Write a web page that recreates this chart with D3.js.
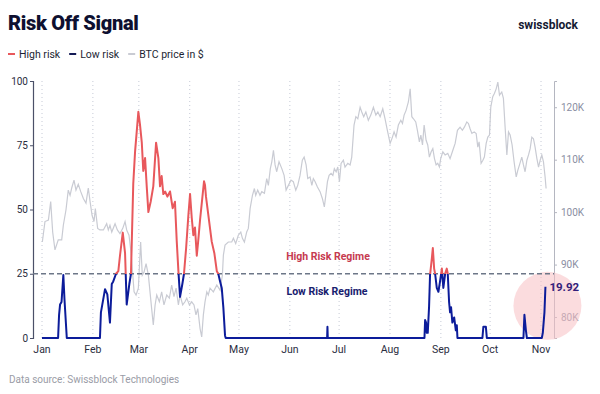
<!DOCTYPE html>
<html>
<head>
<meta charset="utf-8">
<script src="https://cdn.jsdelivr.net/npm/d3@7"></script>
<style>
  body { margin: 0; background: #fff; }
  svg { display: block; font-family: Roboto, "Liberation Sans", sans-serif; }
</style>
</head>
<body>
<svg width="600" height="394"></svg>
<script>
// values (day = days since 1 Jan 2025)
const riskDay = [0, 9.8, 10.4, 11.0, 11.9, 13.0, 13.7, 15.1, 35.3, 35.9, 38.4, 39.8, 41.4, 42.5, 43.4, 45.1, 46.5,
    47.5, 49.2, 50.6, 51.6, 53.2, 54.2, 55.6, 56.7, 58.7, 59.7, 60.8, 61.7, 62.8, 63.8, 64.8, 66.2, 67.8, 69.5,
    70.9, 71.9, 72.9, 73.9, 75.0, 76.4, 78.0, 79.6, 81.0, 82.1, 83.1, 84.1, 85.5, 86.5, 87.8, 89.2, 90.2, 91.2,
    92.2, 93.2, 94.3, 95.2, 96.3, 97.9, 98.7, 99.3, 99.9, 101.3, 103.4, 105.0, 106.5, 107.4, 108.5, 109.5, 110.5,
    111.5, 111.9, 173.7, 173.9, 174.1, 233.0, 233.4, 234.0, 234.4, 235.0, 235.8, 236.4, 237.5, 238.1, 238.9,
    239.5, 240.5, 241.5, 242.5, 243.6, 244.5, 245.6, 246.6, 247.2, 248.0, 248.6, 249.2, 250.0, 251.1, 252.1,
    252.7, 253.1, 268.3, 268.9, 270.4, 271.0, 293.3, 293.9, 294.8, 295.4, 304.5, 305.1, 306.1, 306.7];
const riskValue = [0, 0, 9, 13, 14, 24.5, 15, 0, 0, 10, 19, 17, 6, 21, 22, 25, 26,
    32, 41, 33, 13, 21, 25, 60, 72.5, 88, 83, 76, 65, 70, 59, 49, 53, 59, 76,
    70, 59, 63, 56, 57, 55, 57, 50.5, 53, 37.5, 26, 16, 21, 25, 35, 48, 56, 47,
    40, 43, 32, 38, 46, 56, 61, 59.5, 55, 48, 37.5, 33, 26, 25, 22, 19.5, 11.7,
    1, 0, 0, 4.4, 0, 0, 7, 6, 2, 2, 12, 24.5, 31, 35, 27,
    25, 19.5, 18, 22, 27, 19.5, 25, 27, 25, 14, 10, 12, 6, 8, 3,
    5, 0, 0, 4.4, 4.4, 0, 0, 9, 3, 0, 0, 2, 10, 19.92];

const btcDay = [0.2, 1.8, 3.9, 5.3, 6.5, 7.9, 9.9, 12.0, 13.0, 14.6, 16.0, 17.1, 18.1, 19.5, 20.7, 22.1, 23.6,
    25.2, 26.8, 28.2, 29.3, 30.5, 31.7, 32.5, 33.9, 35.3, 37.4, 39.4, 40.4, 41.4, 42.5, 44.5, 45.9, 47.5, 49.2,
    50.6, 51.6, 53.0, 54.2, 55.3, 56.1, 57.3, 58.7, 60.1, 61.1, 62.2, 63.4, 64.8, 65.8, 66.8, 67.8, 68.9, 69.9,
    71.5, 72.9, 74.3, 76.0, 77.6, 79.0, 80.4, 81.7, 83.1, 84.1, 85.7, 87.1, 88.2, 89.8, 91.2, 92.6, 93.8, 94.9,
    96.3, 97.3, 98.3, 99.3, 100.4, 101.3, 102.4, 104.4, 106.5, 108.5, 109.9, 110.5, 111.5, 113.5, 115.6, 116.6,
    118.0, 119.6, 121.1, 122.1, 123.3, 124.7, 125.7, 126.8, 128.2, 129.4, 130.2, 131.4, 132.8, 133.9, 135.5,
    136.9, 137.9, 139.1, 140.0, 141.0, 142.0, 143.0, 144.4, 146.1, 147.5, 148.7, 150.1, 151.7, 153.1, 154.6,
    155.8, 157.2, 158.6, 159.7, 160.9, 161.9, 163.3, 164.4, 165.3, 166.4, 167.8, 169.4, 170.8, 172.0, 172.9,
    173.9, 174.9, 176.1, 177.2, 178.1, 179.2, 180.2, 181.2, 182.2, 183.6, 184.6, 186.3, 187.7, 188.7, 190.1,
    191.2, 192.4, 193.8, 194.8, 196.0, 197.3, 198.8, 200.3, 201.9, 203.4, 204.6, 206.0, 207.6, 209.0, 210.4,
    212.1, 213.5, 214.5, 215.7, 217.1, 218.6, 219.6, 220.6, 221.8, 223.2, 224.3, 225.3, 226.3, 227.7, 228.7,
    229.9, 230.8, 231.8, 232.8, 234.0, 235.0, 236.0, 237.1, 238.1, 239.1, 240.1, 241.1, 242.1, 242.9, 244.2,
    245.6, 247.2, 248.6, 250.3, 251.7, 253.1, 254.7, 256.1, 257.3, 258.8, 259.8, 260.8, 261.9, 263.3, 264.5,
    265.5, 266.3, 267.5, 268.6, 269.5, 270.6, 271.6, 272.6, 273.4, 274.6, 275.6, 276.7, 277.7, 278.7, 280.1,
    281.1, 282.2, 283.2, 284.2, 285.2, 286.4, 287.6, 288.9, 289.9, 290.9, 292.3, 293.3, 294.3, 295.4, 296.4,
    297.4, 298.4, 299.4, 300.4, 301.5, 302.5, 303.5, 304.5, 305.5, 306.5, 307.1];
const btcPrice = [94.3, 98.2, 98.5, 102, 96.2, 92.8, 94.7, 94.7, 97.5, 100.4, 104.2, 103.2, 104.6, 106.1, 104.2, 105.3, 103.9,
    102.6, 101.7, 104.6, 102, 99.4, 98.2, 100.7, 96.9, 96.6, 96.6, 97.8, 96.6, 97.5, 96.2, 97.8, 96.6, 95.9, 96.9,
    98.2, 96.6, 95.6, 92.4, 88.0, 84.8, 84.2, 85.5, 94.3, 88.0, 88.6, 90.2, 88.0, 84.8, 81.6, 78.5, 82.3, 84.2,
    82.9, 84.8, 82.3, 84.2, 83.6, 86.1, 83.9, 85.5, 82.3, 84.2, 82.3, 82.9, 83.6, 82.3, 82.9, 82.3, 80.4, 81.6,
    77.8, 76.2, 80.4, 82.9, 84.8, 84.2, 85.5, 84.8, 86.1, 85.1, 88.0, 91.8, 93.7, 94.3, 94.3, 95.0,
    94.0, 95.6, 96.2, 95.0, 94.3, 96.2, 96.9, 100.7, 103.2, 104.5, 103.2, 104.2, 103.2, 103.9, 103.6,
    106.4, 105.1, 108.3, 109.6, 111.8, 109.0, 107.7, 109.6, 108.3, 107.0, 104.2, 105.1, 106.1, 105.8, 104.2,
    105.1, 107.0, 109.9, 110.5, 109.0, 106.4, 106.7, 105.1, 106.4, 105.8, 104.8, 103.9, 102.6, 101.0, 103.2,
    105.8, 107.0, 107.4, 107.0, 108.3, 107.7, 108.6, 105.8, 109.3, 109.9, 108.6, 109.3, 109.0, 110.5, 116.6,
    118.2, 117.8, 120.0, 119.1, 118.2, 119.1, 117.5, 118.5, 120.0, 118.5, 119.1, 118.2, 119.7, 117.8, 115.6,
    113.1, 114.3, 115.3, 114.3, 116.6, 117.5, 116.9, 118.5, 119.4, 121.0, 123.5, 118.2, 117.8, 117.2, 115.6,
    113.4, 114.7, 112.8, 116.6, 113.7, 112.8, 110.5, 111.5, 112.1, 110.2, 109.0, 109.3, 108.6, 110.2, 111.5,
    110.9, 111.2, 110.2, 111.8, 113.1, 115.6, 116.2, 115.6, 116.2, 117.2, 116.9, 115.9, 115.0, 115.3, 115.0,
    112.4, 113.4, 109.3, 109.9, 110.5, 113.1, 114.3, 114.7, 120.0, 122.0, 122.6, 123.5, 124.8, 122.3, 122.9,
    121.7, 115.9, 110.9, 115.3, 114.7, 112.8, 109.6, 106.7, 108.0, 109.0, 110.5, 109.0, 107.7, 109.9, 110.9,
    112.1, 114.3, 114.0, 112.4, 110.2, 108.6, 109.9, 110.9, 109.6, 106.7, 104.5];

const monthLabels = ["Jan", "Feb", "Mar", "Apr", "May", "Jun", "Jul", "Aug", "Sep", "Oct", "Nov"];
const riskTicks = [0, 25, 50, 75, 100];
const priceTicks = [80, 90, 100, 110, 120];   // thousands of $
const threshold = 25;

const svg = d3.select("svg");
const red = "#e8585c", navy = "#0c1c9a", grey = "#c9cbd3";

const start = Date.UTC(2025, 0, 1);
const toDate = d => new Date(start + d * 864e5);

const x = d3.scaleUtc()
    .domain([new Date(start), new Date(Date.UTC(2025, 10, 1))])
    .range([42, 541]);
const yL = d3.scaleLinear().domain([0, 100]).range([338, 81]);
const yR = d3.scaleLinear().domain([76, 125]).range([338, 81]);

// title, brand, legend
svg.append("text").attr("x", 8).attr("y", 30)
    .style("font-size", "20px").style("font-weight", 900).attr("fill", "#0e1030")
    .attr("letter-spacing", "-0.3").text("Risk Off Signal");
svg.append("text").attr("x", 578).attr("y", 29).attr("text-anchor", "end")
    .style("font-size", "12px").style("font-weight", 700).attr("fill", "#151a33")
    .text("swissblock");

const legend = [["High risk", red], ["Low risk", "#141a55"], ["BTC price in $", grey]];
let lx = 8;
legend.forEach(([label, col]) => {
    svg.append("line").attr("x1", lx).attr("x2", lx + 7).attr("y1", 54).attr("y2", 54)
        .attr("stroke", col).attr("stroke-width", 2);
    const t = svg.append("text").attr("x", lx + 11).attr("y", 58)
        .style("font-size", "10.5px").attr("fill", "#1c1f33").text(label);
    lx += 11 + t.node().getComputedTextLength() + 9;
});

// month gridlines
const months = d3.utcMonth.range(new Date(start), new Date(Date.UTC(2025, 10, 2)));
svg.append("g").selectAll("line").data(months).join("line")
    .attr("x1", d => x(d)).attr("x2", d => x(d))
    .attr("y1", 81).attr("y2", 338)
    .attr("stroke", "#c6cad6").attr("stroke-width", 1).attr("stroke-dasharray", "1,3");

svg.append("g").selectAll("text").data(months).join("text")
    .attr("x", d => x(d)).attr("y", 353).attr("text-anchor", "middle")
    .style("font-size", "10.5px").attr("fill", "#2a2d3e")
    .text((d, i) => monthLabels[i]);

// left axis
const gL = svg.append("g").attr("transform", "translate(33,0)")
    .call(d3.axisLeft(yL).tickValues(riskTicks).tickSize(3).tickPadding(2));
gL.select(".domain").attr("stroke", "#4b5068").attr("stroke-width", 1.2);
gL.selectAll(".tick line").attr("stroke", "#4b5068");
gL.selectAll("text").style("font-size", "10px").style("font-family", "Roboto").attr("fill", "#2a2d3e");

// right axis
const gR = svg.append("g").attr("transform", "translate(554,0)")
    .call(d3.axisRight(yR).tickValues(priceTicks).tickSize(3).tickPadding(4)
        .tickFormat(d => d + "K"));
gR.select(".domain").attr("stroke", "#b4b6c0");
gR.selectAll(".tick line").attr("stroke", "#b4b6c0");
gR.selectAll("text").style("font-size", "10px").style("font-family", "Roboto").attr("fill", "#8a8ea2");

// highlight circle around latest value
const lastI = riskDay.length - 1;
const lastX = x(toDate(riskDay[lastI])), lastY = yL(riskValue[lastI]);
svg.append("circle").attr("cx", lastX + 2).attr("cy", lastY + 19).attr("r", 34)
    .attr("fill", "#f7c0c2").attr("fill-opacity", 0.55);

// BTC price
const btc = btcDay.map((d, i) => ({ date: toDate(d), v: btcPrice[i] }));
svg.append("path").datum(btc)
    .attr("fill", "none").attr("stroke", grey).attr("stroke-width", 1.2)
    .attr("d", d3.line().x(d => x(d.date)).y(d => yR(d.v)));

// threshold
svg.append("line").attr("x1", 33).attr("x2", 554)
    .attr("y1", yL(threshold)).attr("y2", yL(threshold))
    .attr("stroke", "#6d7788").attr("stroke-width", 1.3).attr("stroke-dasharray", "5,3");

// risk signal, red above threshold, navy below
const grad = svg.append("defs").append("linearGradient").attr("id", "riskGrad")
    .attr("gradientUnits", "userSpaceOnUse")
    .attr("x1", 0).attr("x2", 0).attr("y1", yL(100)).attr("y2", yL(0));
const off = (100 - threshold) / 100;
grad.append("stop").attr("offset", off).attr("stop-color", red);
grad.append("stop").attr("offset", off).attr("stop-color", navy);

const risk = riskDay.map((d, i) => ({ date: toDate(d), v: riskValue[i] }));
svg.append("path").datum(risk)
    .attr("fill", "none").attr("stroke", "url(#riskGrad)").attr("stroke-width", 2)
    .attr("stroke-linejoin", "round")
    .attr("d", d3.line().x(d => x(d.date)).y(d => yL(d.v)));

// annotations
svg.append("text").attr("x", 328).attr("y", 260).attr("text-anchor", "middle")
    .style("font-size", "10.5px").style("font-weight", 700).attr("fill", "#c63a50")
    .text("High Risk Regime");
svg.append("text").attr("x", 327).attr("y", 295).attr("text-anchor", "middle")
    .style("font-size", "10.5px").style("font-weight", 700).attr("fill", "#17206e")
    .text("Low Risk Regime");
svg.append("text").attr("x", lastX + 4).attr("y", lastY + 4)
    .style("font-size", "11.5px").style("font-weight", 700).attr("fill", "#33207a")
    .text(riskValue[lastI].toFixed(2));

svg.append("text").attr("x", 9).attr("y", 383)
    .style("font-size", "10px").attr("fill", "#9a9ca6")
    .text("Data source: Swissblock Technologies");
</script>
</body>
</html>
